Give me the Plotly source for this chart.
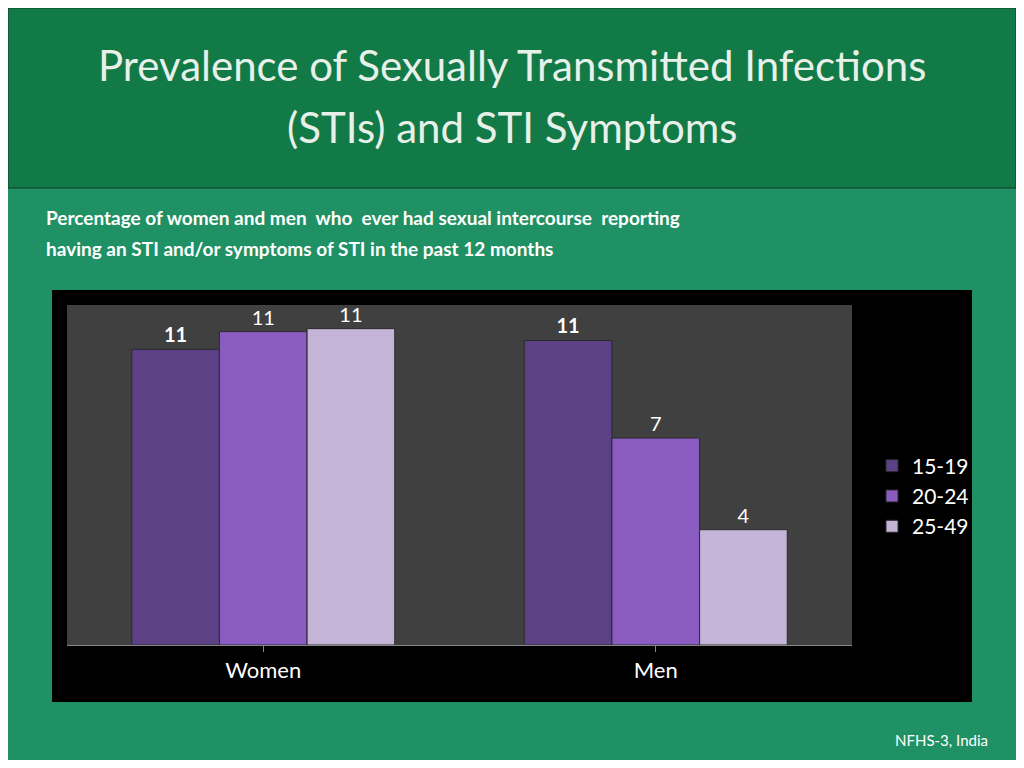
import plotly.graph_objects as go

categories = ["Women", "Men"]
series_names = ["15-19", "20-24", "25-49"]
values_15_19 = [10.0, 10.3]
values_20_24 = [10.6, 7.0]
values_25_49 = [10.7, 3.9]
labels_15_19 = ["11", "11"]
labels_20_24 = ["11", "7"]
labels_25_49 = ["11", "4"]

W, H = 1008, 752
def px(x): return (x - 8) / W
def py(y): return 1 - (y - 8) / H

colors = ["#5d4187", "#8a5cc2", "#c4b5d8"]
fig = go.Figure()
for name, vals, labs, col, bold in [
    (series_names[0], values_15_19, labels_15_19, colors[0], True),
    (series_names[1], values_20_24, labels_20_24, colors[1], False),
    (series_names[2], values_25_49, labels_25_49, colors[2], False),
]:
    fig.add_trace(go.Bar(
        x=categories, y=vals, name=name, text=labs, textposition="outside",
        cliponaxis=False,
        textfont=dict(size=20, color="white", weight="bold" if bold else "normal"),
        marker=dict(color=col, line=dict(color="#2a2a2a", width=1)),
    ))

fig.update_layout(
    width=W, height=H, autosize=False,
    margin=dict(l=0, r=0, t=0, b=0),
    paper_bgcolor="#1f9164", plot_bgcolor="#404040",
    barmode="group", bargap=0.33, bargroupgap=0,
    font=dict(family="Lato, sans-serif", color="white"),
    xaxis=dict(domain=[px(67), px(852)], showgrid=False, ticks="outside", tickcolor="#888",
               showline=True, linecolor="#888", tickfont=dict(size=22), ticklen=6),
    yaxis=dict(domain=[py(645), py(305)], range=[0, 11.5], visible=False),
    legend=dict(x=px(872), y=py(496), yanchor="middle", font=dict(size=21, color="white"),
                bgcolor="rgba(0,0,0,0)"),
    shapes=[
        dict(type="rect", xref="paper", yref="paper", x0=0, x1=1, y0=py(188), y1=1,
             fillcolor="#127a46", line=dict(color="#0b3d22", width=1), layer="below"),
        dict(type="rect", xref="paper", yref="paper", x0=px(52), x1=px(972),
             y0=py(702), y1=py(290), fillcolor="black", line=dict(width=0), layer="below"),
        dict(type="rect", xref="paper", yref="paper", x0=px(67), x1=px(852),
             y0=py(645), y1=py(305), fillcolor="#404040", line=dict(width=0), layer="below"),
    ],
    annotations=[
        dict(xref="paper", yref="paper", x=px(512), y=py(65), showarrow=False, yanchor="middle",
             text="Prevalence of Sexually Transmitted Infections",
             font=dict(size=42, color="#e8f0ea")),
        dict(xref="paper", yref="paper", x=px(512), y=py(127), showarrow=False, yanchor="middle",
             text="(STIs) and STI Symptoms",
             font=dict(size=42, color="#e8f0ea")),
        dict(xref="paper", yref="paper", x=px(44), y=py(217), xanchor="left", yanchor="middle",
             showarrow=False,
             text="<b>Percentage of women and men  who  ever had sexual intercourse  reporting</b>",
             font=dict(size=19, color="white")),
        dict(xref="paper", yref="paper", x=px(44), y=py(248), xanchor="left", yanchor="middle",
             showarrow=False,
             text="<b>having an STI and/or symptoms of STI in the past 12 months</b>",
             font=dict(size=19, color="white")),
        dict(xref="paper", yref="paper", x=px(990), y=py(740), xanchor="right", yanchor="middle",
             showarrow=False, text="NFHS-3, India", font=dict(size=15, color="white")),
    ],
)
fig.write_html("out.html")
